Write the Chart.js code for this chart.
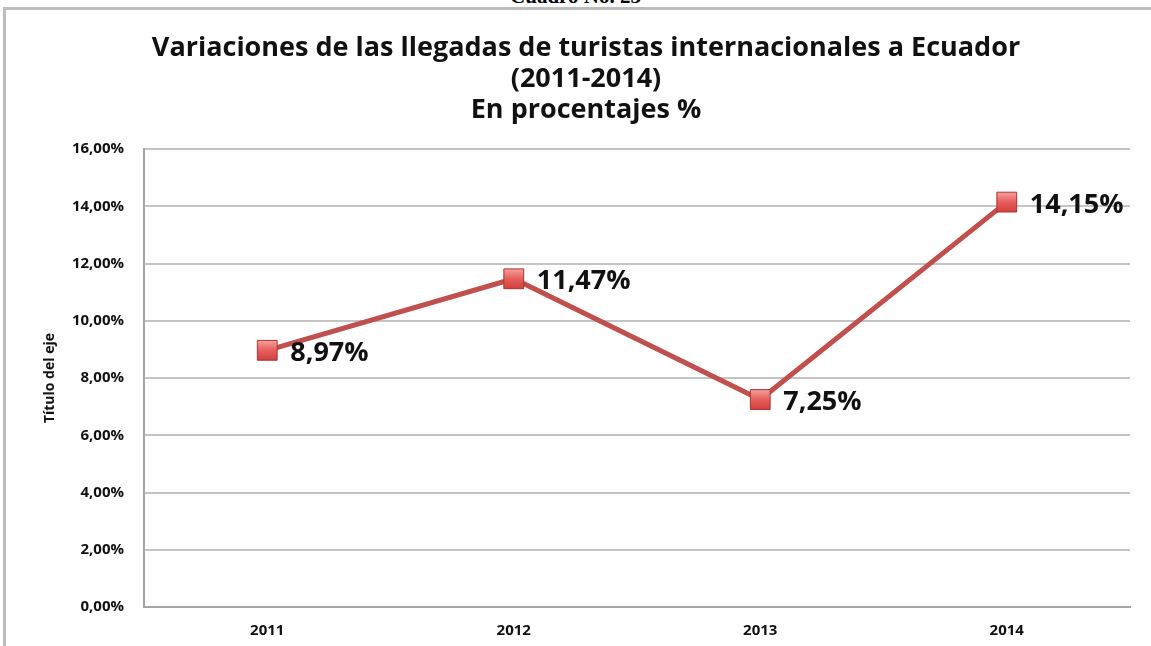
<!DOCTYPE html>
<html>
<head>
    <title>Variaciones de llegadas de turistas</title>
    <style>
        body { margin: 0; background: #fff; overflow: hidden; }
        .wrap { position: relative; width: 1151px; height: 646px; overflow: hidden; }
        .frame { position: absolute; left: 3px; top: 7px; width: 1200px; height: 700px; border: 3px solid #bdbdbd; box-sizing: border-box; }
        .cap { position: absolute; left: 0; width: 1151px; top: -16px; text-align: center; font: bold 21px "Liberation Serif", serif; color: #000; }
        canvas { position: absolute; left: 0; top: 0; }
    </style>
</head>
<body>
    <div class="wrap">
        <div class="cap">Cuadro No. 23</div>
        <div class="frame"></div>
        <canvas id="chartId" width="1151" height="646"></canvas>
    </div>

    <script src="https://cdn.jsdelivr.net/npm/chart.js@4/dist/chart.umd.min.js"></script>
    <script>
        // data
        const years = ["2011", "2012", "2013", "2014"];
        const variacion = [8.97, 11.47, 7.25, 14.15];
        const titleLines = [
            "Variaciones de las llegadas de turistas internacionales a Ecuador",
            "(2011-2014)",
            "En procentajes %"
        ];
        const axisTitle = "Título del eje";

        const pct = v => v.toFixed(2).replace('.', ',') + '%';
        const FONT = '"Open Sans", sans-serif';

        // little plugin to write the value next to each point
        const valueLabels = {
            id: 'valueLabels',
            afterDatasetsDraw(chart) {
                const ctx = chart.ctx;
                const meta = chart.getDatasetMeta(0);
                ctx.save();
                ctx.font = 'bold 27px ' + FONT;
                ctx.fillStyle = '#111';
                ctx.textBaseline = 'middle';
                meta.data.forEach((pt, i) => {
                    ctx.fillText(pct(variacion[i]), pt.x + 23, pt.y + 3);
                });
                ctx.restore();
            }
        };

        // square markers with a light-to-dark red gradient
        function markerFill(context) {
            const c = context.chart.ctx;
            const el = context.element;
            if (!el || el.y === undefined) return '#E35B58';
            const g = c.createLinearGradient(0, el.y - 10, 0, el.y + 10);
            g.addColorStop(0, '#F5A19E');
            g.addColorStop(0.5, '#E65E5A');
            g.addColorStop(1, '#D2403D');
            return g;
        }

        const chrt = document.getElementById("chartId").getContext("2d");
        const chartId = new Chart(chrt, {
            type: 'line',
            data: {
                labels: years,
                datasets: [{
                    data: variacion,
                    borderColor: '#C0504D',
                    borderWidth: 5,
                    pointStyle: 'rect',
                    pointRadius: 14,
                    pointBackgroundColor: markerFill,
                    pointBorderColor: '#A83431',
                    pointBorderWidth: 1,
                    tension: 0
                }]
            },
            options: {
                responsive: false,
                animation: false,
                layout: { padding: { left: 42, right: 21, top: 0, bottom: 0 } },
                scales: {
                    x: {
                        offset: true,
                        afterFit(scale) { scale.height = 39; },
                        grid: { display: false, drawTicks: false },
                        border: { color: '#a6a6a6', width: 2 },
                        ticks: { color: '#111', font: { family: FONT, weight: 'bold', size: 15 }, padding: 15 }
                    },
                    y: {
                        min: 0,
                        max: 16,
                        afterFit(scale) { scale.width = 102; },
                        grid: { color: '#c4c4c4', lineWidth: 2, drawTicks: false },
                        border: { color: '#a6a6a6', width: 2 },
                        ticks: {
                            stepSize: 2,
                            padding: 20,
                            color: '#111',
                            font: { family: FONT, weight: 'bold', size: 15 },
                            callback: v => pct(v)
                        },
                        title: {
                            display: true,
                            text: axisTitle,
                            color: '#111',
                            font: { family: FONT, weight: 'bold', size: 14 },
                            padding: { top: 0, bottom: 0 }
                        }
                    }
                },
                plugins: {
                    legend: { display: false },
                    tooltip: { enabled: false },
                    title: {
                        display: true,
                        text: titleLines,
                        color: '#111',
                        font: { family: FONT, weight: 'bold', size: 27, lineHeight: 1.15 },
                        padding: { top: 33, bottom: 23 }
                    }
                }
            },
            plugins: [valueLabels]
        });
    </script>
</body>
</html>
